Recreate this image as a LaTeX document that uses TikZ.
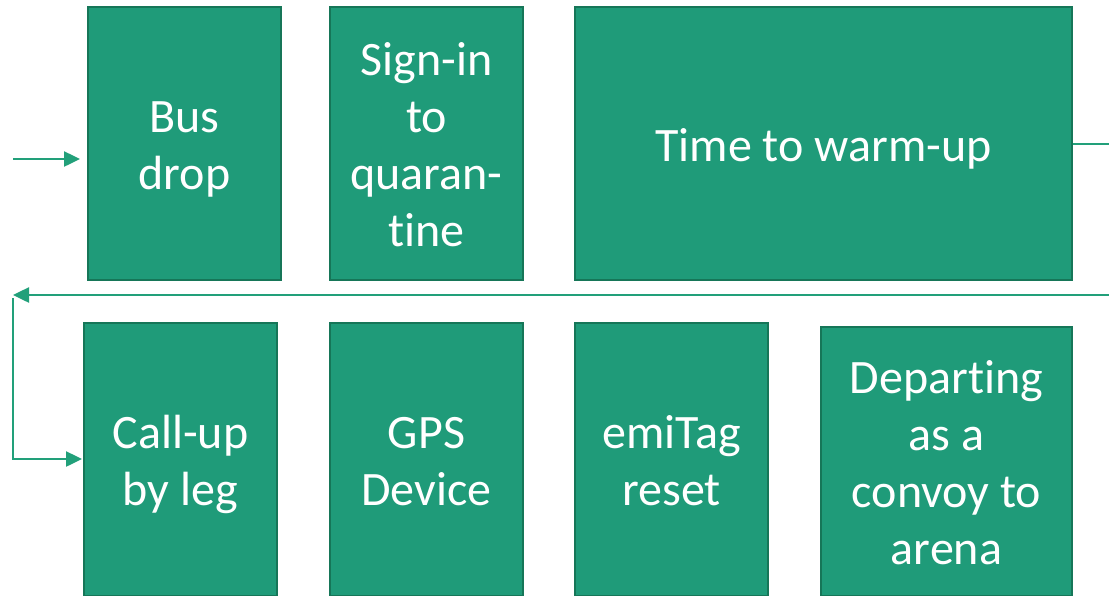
\documentclass[tikz,border=0pt]{standalone}
\usepackage{fontspec}
\setmainfont[Ligatures=NoCommon]{Carlito}
\usetikzlibrary{arrows.meta}
\definecolor{boxfill}{RGB}{31,155,121}
\definecolor{boxline}{RGB}{22,118,88}
\definecolor{conn}{RGB}{34,160,122}
\newcommand\boxtext[1]{\raisebox{-12.5pt}[0pt][0pt]{\begin{tabular}{@{}c@{}}#1\end{tabular}}}
\tikzset{
  stage/.style={draw=boxline, line width=2pt, fill=boxfill, text=white, align=center,
    inner sep=0pt, font=\fontsize{48}{57}\selectfont},
  conline/.style={draw=conn, line width=2.5pt},
  tip/.style={-{Triangle[length=16pt,width=15pt]}}
}
\begin{document}
\begin{tikzpicture}[x=1pt,y=-1pt]
\useasboundingbox (0,0) rectangle (1109,595);
\node[stage, minimum width=193pt, minimum height=273pt] (bus) at (184.5,143.5) {\boxtext{Bus\\drop}};
\node[stage, minimum width=193pt, minimum height=273pt] (sign) at (426.5,143.5) {\boxtext{Sign-in\\to\\quaran-\\tine}};
\node[stage, minimum width=497pt, minimum height=273pt] (warm) at (823.5,143.5) {\boxtext{Time to warm-up}};
\node[stage, minimum width=193pt, minimum height=273pt] (call) at (180.5,459) {\boxtext{Call-up\\by leg}};
\node[stage, minimum width=193pt, minimum height=273pt] (gps) at (426.5,459) {\boxtext{GPS\\Device}};
\node[stage, minimum width=193pt, minimum height=273pt] (emi) at (671.5,459) {\boxtext{emiTag\\reset}};
\node[stage, minimum width=251pt, minimum height=269pt] (dep) at (946.5,461) {\boxtext{Departing\\as a\\convoy to\\arena}};
\coordinate (start) at (13,159);
\coordinate (rightout) at (1109,144);
\coordinate (rightback) at (1109,295);
\coordinate (leftback) at (13,295);
\coordinate (downstart) at (13,298);
\draw[conline, tip, shorten >=7pt] (start) -- (bus.west |- start);
\draw[conline] (warm.east |- rightout) -- (rightout);
\draw[conline, tip] (rightback) -- (leftback);
\draw[conline, tip, shorten >=1pt] (downstart) |- (call.west);
\end{tikzpicture}
\end{document}
